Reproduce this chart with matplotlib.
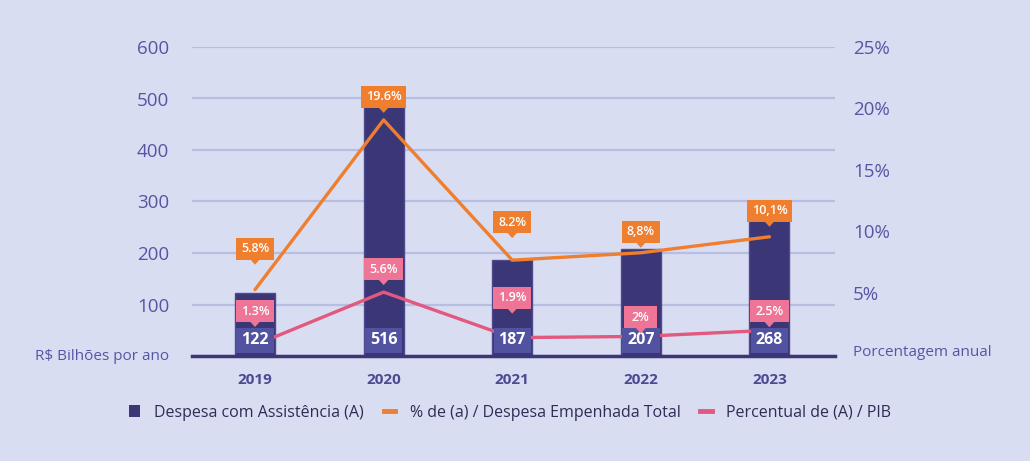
import matplotlib
matplotlib.use("Agg")
import matplotlib.pyplot as plt
from matplotlib.patches import Patch, Rectangle, Polygon
from matplotlib.lines import Line2D
from matplotlib.transforms import ScaledTranslation, IdentityTransform

plt.rcParams['font.family'] = ['Open Sans', 'DejaVu Sans']

years = ['2019', '2020', '2021', '2022', '2023']
despesa = [122, 516, 187, 207, 268]
pct_empenhada = [5.8, 19.6, 8.2, 8.8, 10.1]
pct_empenhada_txt = ['5.8%', '19.6%', '8.2%', '8,8%', '10,1%']
pct_pib = [1.3, 5.6, 1.9, 2.0, 2.5]
pct_pib_txt = ['1.3%', '5.6%', '1.9%', '2%', '2.5%']

# label offsets above the point, in pixels (hand placed to avoid overlaps)
off_orange = [41, 23, 38, 21, 26]
off_pink = [34, 23, 40, 19, 19]

BG = '#d9ddf2'
NAVY = '#3b3776'
BOX = '#5153a0'
ORANGE = '#ef7e2e'
PINK_LINE = '#e2587f'
PINK_BOX = '#ee7596'
GRID = '#b6bee1'
TXT = '#5556a3'

fig = plt.figure(figsize=(10.3, 4.61), dpi=100, facecolor=BG)
ax = fig.add_axes([192/1030, 105/461, 643/1030, 309/461])
ax.set_facecolor(BG)
x = list(range(len(years)))

ax.bar(x, despesa, width=0.31, color=NAVY, edgecolor='#4d4a8e', linewidth=1, zorder=2)
ax.set_xlim(-0.49, 4.51)
ax.set_ylim(0, 600)
ax.set_yticks([0, 100, 200, 300, 400, 500, 600])
ax.set_yticklabels(['', '100', '200', '300', '400', '500', '600'])
ax.grid(axis='y', color=GRID, linewidth=1.6, zorder=0)
ax.set_axisbelow(True)
for s in ['top', 'right', 'left']:
    ax.spines[s].set_visible(False)
ax.spines['bottom'].set_color(NAVY)
ax.spines['bottom'].set_linewidth(2.5)
ax.spines['bottom'].set_zorder(6)
ax.tick_params(axis='y', length=0, pad=16.5, labelsize=13.5, labelcolor=TXT)
ax.tick_params(axis='x', length=0, pad=12, labelsize=11, labelcolor='#4b4a93')
ax.set_xticks(x)
ax.set_xticklabels(years, fontweight='bold')
ax.text(-0.0359, 0, 'R$ Bilhões por ano', transform=ax.transAxes, ha='right',
        va='center', fontsize=11, color=TXT)

ax2 = ax.twinx()
ax2.set_ylim(0.407, 25.53)
ax2.set_yticks([5, 10, 15, 20, 25])
ax2.set_yticklabels(['5%', '10%', '15%', '20%', '25%'])
ax2.tick_params(axis='y', length=0, pad=13, labelsize=13.5, labelcolor=TXT)
for s in ax2.spines.values():
    s.set_visible(False)
for lab in ax2.get_yticklabels():
    lab.set_transform(lab.get_transform() + ScaledTranslation(0, 7/100, fig.dpi_scale_trans))
ax2.text(1.028, 0.012, 'Porcentagem anual', transform=ax2.transAxes, ha='left',
         va='center', fontsize=11, color=TXT)

ax2.plot(x, pct_empenhada, color=ORANGE, linewidth=2.4, zorder=3, solid_capstyle='round')
ax2.plot(x, pct_pib, color=PINK_LINE, linewidth=2.4, zorder=3, solid_capstyle='round')

renderer = fig.canvas.get_renderer()
px = IdentityTransform()


def box_label(px_x, px_y, txt, color, fs, weight, w_min, h, z, pointer=False):
    t = ax2.text(px_x, px_y, txt, transform=px, ha='center', va='center',
                 fontsize=fs, fontweight=weight, color='white', zorder=z + 1)
    w = max(w_min, t.get_window_extent(renderer).width + 10)
    ax2.add_patch(Rectangle((px_x - w / 2, px_y - h / 2), w, h, transform=px,
                            fc=color, ec='none', zorder=z, clip_on=False))
    if pointer:
        yb = px_y - h / 2
        ax2.add_patch(Polygon([(px_x - 5, yb + 0.5), (px_x + 5, yb + 0.5), (px_x, yb - 5)],
                              closed=True, transform=px, fc=color, ec='none',
                              zorder=z, clip_on=False))


# value boxes at bar bottoms
for xi, v in zip(x, despesa):
    bx, by = ax.transData.transform((xi, 0))
    box_label(bx, by + 16, str(v), BOX, 11.5, 'bold', 34, 25, 5)

for xi, yv, txt, off in zip(x, pct_empenhada, pct_empenhada_txt, off_orange):
    bx, by = ax2.transData.transform((xi, yv))
    box_label(bx, by + off, txt, ORANGE, 9, 'semibold', 33, 22, 7, pointer=True)
for xi, yv, txt, off in zip(x, pct_pib, pct_pib_txt, off_pink):
    bx, by = ax2.transData.transform((xi, yv))
    box_label(bx, by + off, txt, PINK_BOX, 9, 'semibold', 33, 22, 7, pointer=True)

handles = [
    Patch(facecolor=NAVY, edgecolor='none'),
    Line2D([0], [0], color=ORANGE, linewidth=3.5),
    Line2D([0], [0], color=PINK_LINE, linewidth=3.5),
]
labels = ['Despesa com Assistência (A)', '% de (a) / Despesa Empenhada Total',
          'Percentual de (A) / PIB']
fig.legend(handles, labels, loc='center', bbox_to_anchor=(0.495, 0.105), ncol=3,
           frameon=False, fontsize=11.5, handlelength=0.7, handleheight=0.8,
           handletextpad=0.9, columnspacing=1.25, labelcolor='#2e2c55')

fig.savefig('out.png', dpi=100, facecolor=BG)
